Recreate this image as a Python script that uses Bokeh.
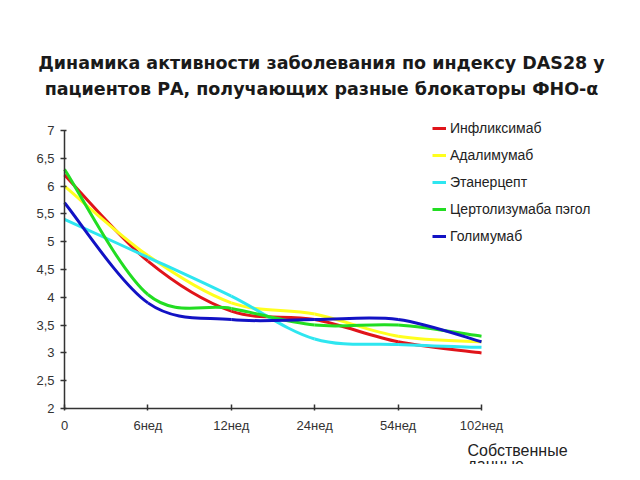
import numpy as np
from bokeh.plotting import figure
from bokeh.models import Range1d, FixedTicker, Label, Legend, LegendItem, ColumnDataSource
from bokeh.embed import file_html
from bokeh.resources import INLINE

categories = ["0", "6нед", "12нед", "24нед", "54нед", "102нед"]
y_ticks = [2, 2.5, 3, 3.5, 4, 4.5, 5, 5.5, 6, 6.5, 7]
y_tick_labels = ["2", "2,5", "3", "3,5", "4", "4,5", "5", "5,5", "6", "6,5", "7"]

series_names = ["Инфликсимаб", "Адалимумаб", "Этанерцепт", "Цертолизумаба пэгол", "Голимумаб"]
infliximab = [6.2, 4.65, 3.75, 3.6, 3.2, 3.0]
adalimumab = [6.0, 4.75, 3.9, 3.7, 3.3, 3.2]
etanercept = [5.4, 4.72, 4.02, 3.25, 3.15, 3.1]
certolizumab = [6.3, 4.05, 3.8, 3.5, 3.5, 3.3]
golimumab = [5.7, 3.9, 3.6, 3.6, 3.6, 3.2]
series_values = [infliximab, adalimumab, etanercept, certolizumab, golimumab]
series_colors = ["#e0141a", "#ffff1e", "#2ee6f0", "#22dd22", "#1212c4"]

title_lines = ["Динамика активности заболевания по индексу DAS28 у",
               "пациентов РА, получающих разные блокаторы ФНО-α"]
note_lines = ["Собственные", "данные"]

# layout geometry (pixels): the frame covers the whole canvas,
# axes are pinned at the data origin with fixed_location
W, H = 624, 464
AX_LEFT, AX_RIGHT = 64, 481
AX_TOP, AX_BOTTOM = 130, 408
px_x = (AX_RIGHT - AX_LEFT) / 5.0
px_y = (AX_BOTTOM - AX_TOP) / 5.0
x_start = 0 - AX_LEFT / px_x
x_end = 5 + (W - AX_RIGHT) / px_x
y_start = 2 - (H - AX_BOTTOM) / px_y
y_end = 7 + AX_TOP / px_y

p = figure(width=W, height=H, output_backend="svg", toolbar_location=None,
           x_range=Range1d(x_start, x_end), y_range=Range1d(y_start, y_end),
           min_border_left=0, min_border_right=0, min_border_top=0, min_border_bottom=0)
p.outline_line_color = None
p.xgrid.visible = False
p.ygrid.visible = False
p.background_fill_color = "white"
p.border_fill_color = "white"


def smooth_segments(ys):
    # Catmull-Rom style bezier control points (chart line smoothing)
    xs = np.arange(len(ys), dtype=float)
    ys = np.asarray(ys, dtype=float)
    xp = np.concatenate([[xs[0]], xs, [xs[-1]]])
    yp = np.concatenate([[ys[0]], ys, [ys[-1]]])
    n = len(ys) - 1
    d = dict(x0=[], y0=[], x1=[], y1=[], cx0=[], cy0=[], cx1=[], cy1=[])
    for i in range(n):
        j = i + 1
        d["x0"].append(xp[j]); d["y0"].append(yp[j])
        d["x1"].append(xp[j + 1]); d["y1"].append(yp[j + 1])
        d["cx0"].append(xp[j] + (xp[j + 1] - xp[j - 1]) / 6)
        d["cy0"].append(yp[j] + (yp[j + 1] - yp[j - 1]) / 6)
        d["cx1"].append(xp[j + 1] - (xp[j + 2] - xp[j]) / 6)
        d["cy1"].append(yp[j + 1] - (yp[j + 2] - yp[j]) / 6)
    return ColumnDataSource(d)


items = []
for name, vals, col in zip(series_names, series_values, series_colors):
    src = smooth_segments(vals)
    r = p.bezier(x0="x0", y0="y0", x1="x1", y1="y1", cx0="cx0", cy0="cy0",
                 cx1="cx1", cy1="cy1", source=src, line_color=col, line_width=3)
    items.append(LegendItem(label=name, renderers=[r]))

legend = Legend(items=items, location=(432, H - 246), padding=0, spacing=7,
                label_height=20, glyph_height=20, glyph_width=14, label_standoff=4,
                border_line_color=None, background_fill_alpha=0,
                label_text_font="Liberation Sans", label_text_font_size="14px",
                label_text_color="#222222", margin=0)
p.add_layout(legend, "center")

for ax in (p.xaxis[0], p.yaxis[0]):
    ax.axis_line_color = "#333333"
    ax.axis_line_width = 1.5
    ax.major_tick_line_color = "#333333"
    ax.major_tick_line_width = 1.5
    ax.minor_tick_line_color = None
    ax.major_label_text_font = "Liberation Sans"
    ax.major_label_text_font_size = "13px"
    ax.major_label_text_color = "#333333"

p.xaxis.fixed_location = 2
p.xaxis.bounds = (0, 5)
p.xaxis.ticker = FixedTicker(ticks=list(range(len(categories))))
p.xaxis.major_label_overrides = {i: c for i, c in enumerate(categories)}
p.xaxis.major_tick_in = 4
p.xaxis.major_tick_out = 2
p.xaxis.major_label_standoff = 7

p.yaxis.fixed_location = 0
p.yaxis.bounds = (2, 7)
p.yaxis.ticker = FixedTicker(ticks=y_ticks)
p.yaxis.major_label_overrides = {t: l for t, l in zip(y_ticks, y_tick_labels)}
p.yaxis.major_tick_in = 2
p.yaxis.major_tick_out = 4
p.yaxis.major_label_standoff = 6

for txt, yy in zip(title_lines, [62, 88]):
    p.add_layout(Label(x=321, y=H - yy, x_units="screen", y_units="screen", text=txt,
                       text_align="center", text_baseline="middle",
                       text_font="DejaVu Sans", text_font_style="bold",
                       text_font_size="17.5px", text_color="#1a1a1a"))

for txt, yy in zip(note_lines, [450, 464]):
    p.add_layout(Label(x=467, y=H - yy, x_units="screen", y_units="screen", text=txt,
                       text_align="left", text_baseline="middle",
                       text_font="Liberation Sans", text_font_size="16px",
                       text_color="#222222"))

open("out.html", "w").write(file_html(p, INLINE))
